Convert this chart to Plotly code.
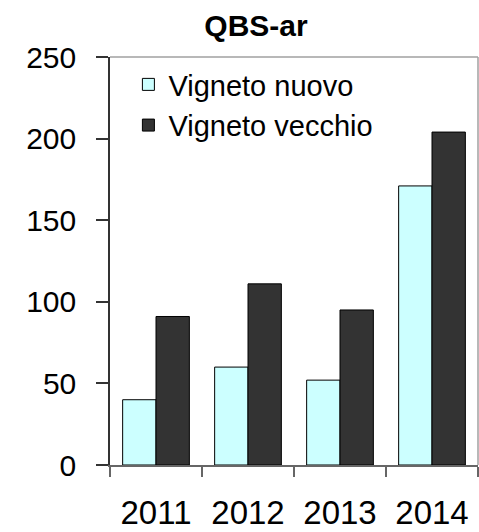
import plotly.graph_objects as go

years = ["2011", "2012", "2013", "2014"]
vigneto_nuovo = [40, 60, 52, 171]
vigneto_vecchio = [91, 111, 95, 204]
y_ticks = [0, 50, 100, 150, 200, 250]

fig = go.Figure()
fig.add_trace(go.Bar(
    x=years, y=vigneto_nuovo, name="Vigneto nuovo",
    marker=dict(color="#CCFFFF", line=dict(color="#000000", width=1)),
))
fig.add_trace(go.Bar(
    x=years, y=vigneto_vecchio, name="Vigneto vecchio",
    marker=dict(color="#333333", line=dict(color="#000000", width=1)),
))

font_family = "Liberation Sans, Arial, sans-serif"

fig.update_layout(
    width=479, height=532,
    margin=dict(l=110, r=1, t=57, b=65),
    paper_bgcolor="white", plot_bgcolor="white",
    barmode="group", bargap=0.275, bargroupgap=0,
    font=dict(family=font_family, color="#000000"),
    title=dict(
        text="<b>QBS-ar</b>", font=dict(size=30, family=font_family, color="#000"),
        x=256 / 479, xref="container", xanchor="center",
        y=1 - 25 / 532, yref="container", yanchor="middle",
    ),
    showlegend=True,
    legend=dict(
        x=0.05, y=0.995, xanchor="left", yanchor="top",
        bgcolor="rgba(0,0,0,0)", borderwidth=0,
        font=dict(size=29, family=font_family, color="#000"),
        tracegroupgap=0, itemwidth=30,
    ),
    yaxis=dict(
        range=[0, 250], tickvals=y_ticks, ticktext=[str(v) for v in y_ticks],
        ticks="outside", ticklen=12, tickcolor="#333333", tickwidth=1.5,
        showline=True, linecolor="#333333", linewidth=1.5,
        showgrid=False, zeroline=False,
        tickfont=dict(size=30, family=font_family, color="#000"),
        ticklabelstandoff=14,
    ),
    xaxis=dict(
        type="category", tickson="boundaries",
        ticks="outside", ticklen=10, tickcolor="#666666", tickwidth=1.5,
        showline=True, linecolor="#666666", linewidth=1.5,
        showgrid=False, zeroline=False,
        tickfont=dict(size=33, family=font_family, color="#000"),
        ticklabelstandoff=18,
    ),
    shapes=[
        dict(type="line", xref="paper", yref="paper", x0=0, x1=1, y0=1, y1=1,
             line=dict(color="#A0A0A0", width=1.5)),
        dict(type="line", xref="paper", yref="paper", x0=1, x1=1, y0=0, y1=1,
             line=dict(color="#A0A0A0", width=1.5)),
    ],
)

fig.write_html(
    "out.html",
    config={"displayModeBar": False},
    post_script="document.body.style.margin='0';document.body.style.overflow='hidden';",
)
